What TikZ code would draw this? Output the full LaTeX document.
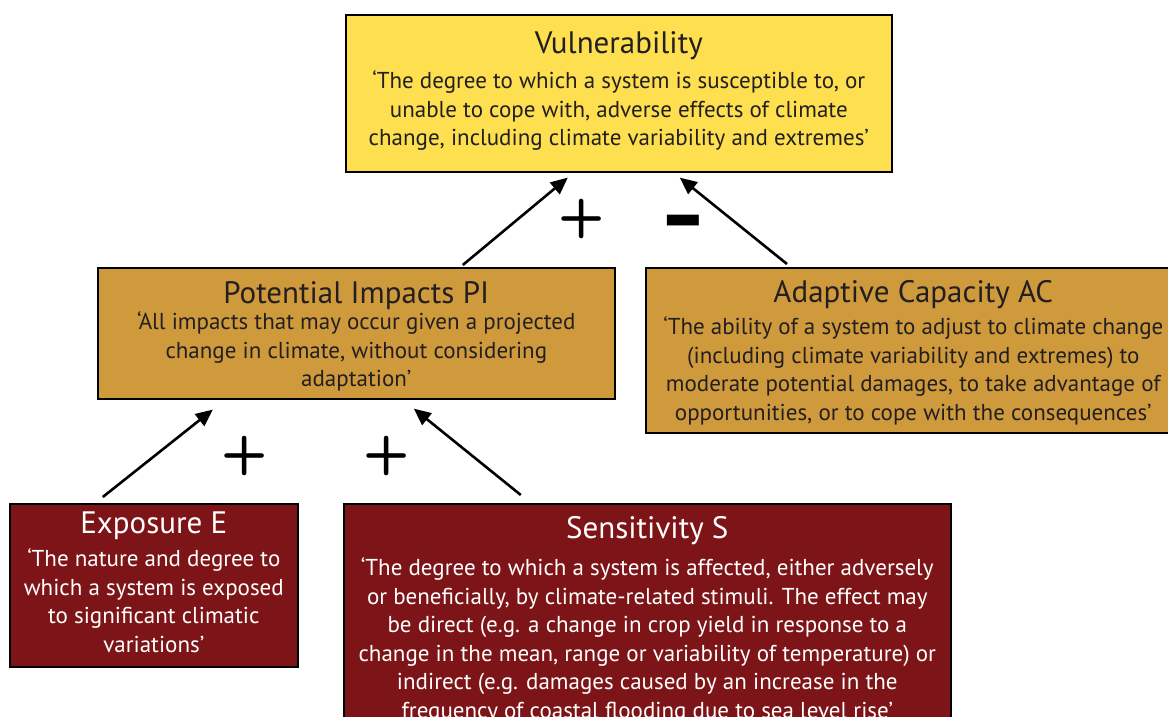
\documentclass[tikz,border=0pt]{standalone}
\usepackage{fontspec}
\setmainfont{PT Sans}
\usetikzlibrary{arrows.meta,shadows}
\definecolor{vyellow}{HTML}{FDDF4F}
\definecolor{vorange}{HTML}{CF9A3C}
\definecolor{vred}{HTML}{7D1518}
\definecolor{vtext}{HTML}{231F20}
% #1 width, #2 height, #3 title baseline from top, #4 title, #5 extra gap, #6 body
\newcommand\boxtext[6]{%
  \begin{minipage}[t][#2][t]{#1}\centering
  \fontsize{31}{31}\selectfont\rule{0pt}{#3}#4\par
  \vspace{#5}%
  \fontsize{23}{28.5}\selectfont #6\par
  \end{minipage}}
\begin{document}
\begin{tikzpicture}[x=1pt,y=-1pt,
  box/.style={draw=black, line width=1.6pt, inner sep=0pt, anchor=north west,
    general shadow={fill=black!75, shadow xshift=1.2pt, shadow yshift=-1.2pt}},
  ybox/.style={box, fill=vyellow, text=vtext},
  obox/.style={box, fill=vorange, text=vtext},
  rbox/.style={box, fill=vred, text=white},
  conn/.style={line width=2.6pt, -{Triangle[length=17pt,width=15pt]}},
  sign/.style={font=\sffamily\bfseries\fontsize{54}{54}\selectfont, inner sep=0pt},
  minus/.style={font=\fontsize{85}{85}\selectfont, inner sep=0pt}]
\useasboundingbox (0,0) rectangle (1168,717);
\fill[white] (0,0) rectangle (1168,717);

\node[ybox] (V) at (345,14)
  {\boxtext{546pt}{157pt}{39pt}{Vulnerability}{6.5pt}{%
   ‘The degree to which a system is susceptible to, or\\
   unable to cope with, adverse effects of climate\\
   change, including climate variability and extremes’}};

\node[obox] (PI) at (97,267)
  {\boxtext{517pt}{131pt}{36pt}{Potential Impacts PI}{-2.5pt}{%
   ‘All impacts that may occur given a projected\\
   change in climate, without considering\\
   adaptation’}};

\node[obox] (AC) at (645,267)
  {\boxtext{535pt}{165pt}{35pt}{Adaptive Capacity AC}{3.5pt}{%
   ‘The ability of a system to adjust to climate change\\
   (including climate variability and extremes) to\\
   moderate potential damages, to take advantage of\\
   opportunities, or to cope with the consequences’}};

\node[rbox] (E) at (9,503)
  {\boxtext{288pt}{163pt}{30pt}{Exposure E}{4.5pt}{%
   ‘The nature and degree to\\
   which a system is exposed\\
   to significant climatic\\
   variations’}};

\node[rbox] (S) at (343,503)
  {\boxtext{607pt}{240pt}{35pt}{Sensitivity S}{8.5pt}{%
   ‘The degree to which a system is affected, either adversely\\
   or beneficially, by climate-related stimuli. The effect may\\
   be direct (e.g. a change in crop yield in response to a\\
   change in the mean, range or variability of temperature) or\\
   indirect (e.g. damages caused by an increase in the\\
   frequency of coastal flooding due to sea level rise’}};

\draw[conn] ([xshift=106.5pt,yshift=2pt]PI.north) -- ([xshift=-51pt,yshift=-5pt]V.south);
\draw[conn] ([xshift=142pt,yshift=3pt]AC.north west) -- ([xshift=61pt,yshift=-5pt]V.south);
\draw[conn] ([xshift=-51pt,yshift=6pt]E.north) -- ([xshift=-143.5pt,yshift=-10pt]PI.south);
\draw[conn] ([xshift=-126.5pt,yshift=8pt]S.north) -- ([xshift=57.5pt,yshift=-9pt]PI.south);

\node[sign] (p1) at (582,218.5) {+};
\node[minus] (m1) at (683,231) {\scalebox{0.85}[1.1]{\bfseries –}};
\node[sign] (p2) at (245,455.5) {+};
\node[sign] (p3) at (387,455.5) {+};
\end{tikzpicture}
\end{document}
